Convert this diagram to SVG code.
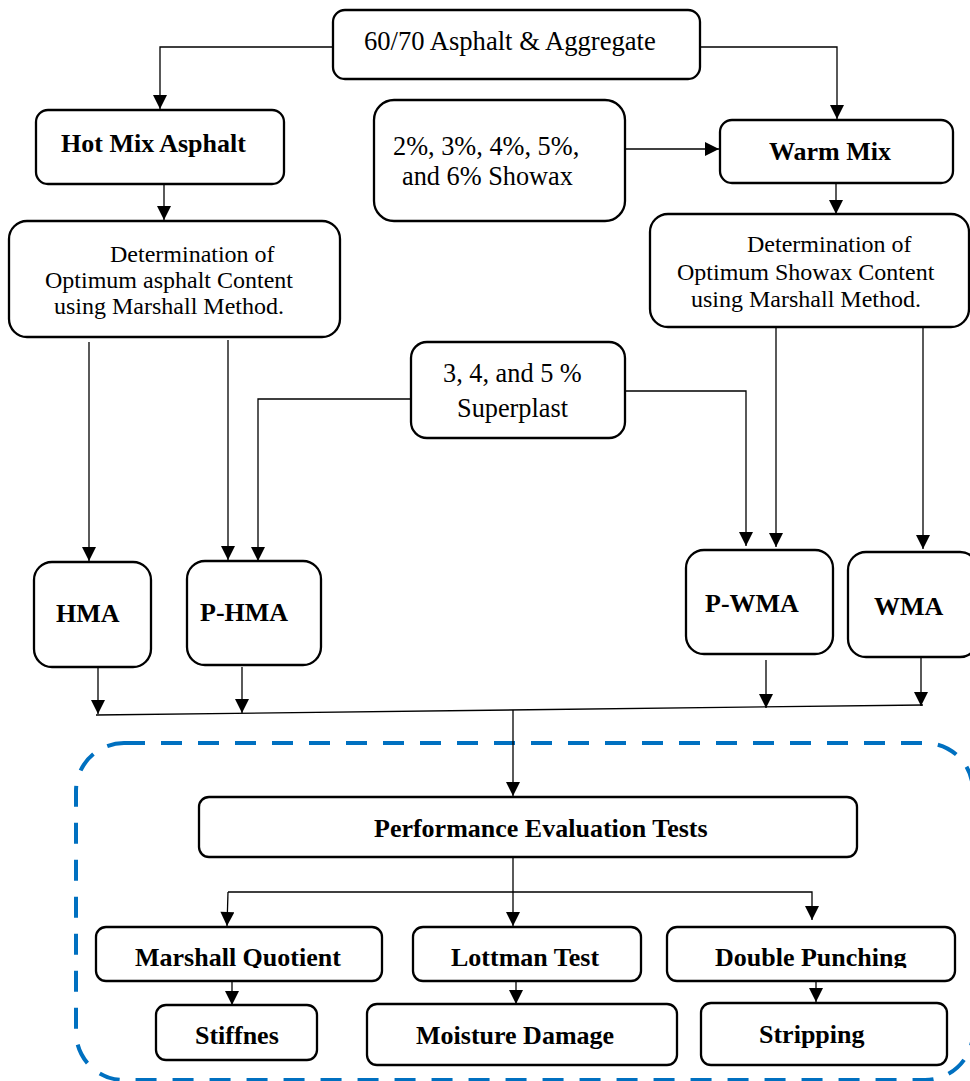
<svg xmlns="http://www.w3.org/2000/svg" width="970" height="1081" viewBox="0 0 970 1081">
<style>
.box{fill:#fff;stroke:#000;stroke-width:2.3}
.ln{fill:none;stroke:#000;stroke-width:1.3}
.r{font-family:"Liberation Serif","Times New Roman",serif;font-size:24px;fill:#000}
.r26{font-family:"Liberation Serif","Times New Roman",serif;font-size:26.3px;fill:#000}
.b{font-family:"Liberation Serif","Times New Roman",serif;font-size:26px;font-weight:bold;fill:#000}
</style>
<defs>
<marker id="ah" viewBox="0 0 10 10" refX="10" refY="5" markerWidth="15" markerHeight="14" markerUnits="userSpaceOnUse" orient="auto">
<path d="M0,0 L10,5 L0,10 z" fill="#000"/>
</marker>
<clipPath id="clipRow"><rect x="0" y="925" width="970" height="43"/></clipPath>
</defs>
<rect width="970" height="1081" fill="#fff"/>

<rect id="frame" x="76" y="743" width="897" height="337" rx="48" fill="none" stroke="#0070C0" stroke-width="4" stroke-dasharray="21,16"/>

<g id="connectors">
<path class="ln" d="M333,47 H160 V109" marker-end="url(#ah)"/>
<path class="ln" d="M700,47 H837 V119" marker-end="url(#ah)"/>
<path class="ln" d="M164,185 V220" marker-end="url(#ah)"/>
<path class="ln" d="M625,149 H719" marker-end="url(#ah)"/>
<path class="ln" d="M836,184 V214" marker-end="url(#ah)"/>
<path class="ln" d="M89,342 V561" marker-end="url(#ah)"/>
<path class="ln" d="M228,340 V560" marker-end="url(#ah)"/>
<path class="ln" d="M411,399 H258 V561" marker-end="url(#ah)"/>
<path class="ln" d="M625,391 H746 V546" marker-end="url(#ah)"/>
<path class="ln" d="M776,328 V547" marker-end="url(#ah)"/>
<path class="ln" d="M923,328 V549" marker-end="url(#ah)"/>
<path class="ln" d="M98,668 V714" marker-end="url(#ah)"/>
<path class="ln" d="M242,667 V713" marker-end="url(#ah)"/>
<path class="ln" d="M766,660 V708" marker-end="url(#ah)"/>
<path class="ln" d="M921,658 V706" marker-end="url(#ah)"/>
<path class="ln" d="M96,715 L923,705"/>
<path class="ln" d="M513,710 V796" marker-end="url(#ah)"/>
<path class="ln" d="M513,858 V926" marker-end="url(#ah)"/>
<path class="ln" d="M228,892 H812 V920" marker-end="url(#ah)"/>
<path class="ln" d="M228,892 L227,926" marker-end="url(#ah)"/>
<path class="ln" d="M232,982 V1005" marker-end="url(#ah)"/>
<path class="ln" d="M516,982 V1004" marker-end="url(#ah)"/>
<path class="ln" d="M816,982 V1002" marker-end="url(#ah)"/>
</g>

<g id="n_top">
<rect class="box" x="333" y="10" width="367" height="69" rx="12"/>
<text class="r26" x="364" y="50" style="font-size:26.6px">60/70 Asphalt &amp; Aggregate</text>
</g>
<g id="n_hot">
<rect class="box" x="36" y="110" width="248" height="74" rx="12"/>
<text class="b" x="61" y="152">Hot Mix Asphalt</text>
</g>
<g id="n_showax">
<rect class="box" x="374" y="100" width="251" height="121" rx="20"/>
<text class="r26" x="393" y="155">2%, 3%, 4%, 5%,</text>
<text class="r26" x="402" y="185">and 6% Showax</text>
</g>
<g id="n_warm">
<rect class="box" x="720" y="120" width="233" height="63" rx="12"/>
<text class="b" x="769" y="160">Warm Mix</text>
</g>
<g id="n_det_asp">
<rect class="box" x="9" y="221" width="331" height="116" rx="18"/>
<text class="r" x="110" y="262">Determination of</text>
<text class="r" x="45" y="288">Optimum asphalt Content</text>
<text class="r" x="54" y="314">using Marshall Method.</text>
</g>
<g id="n_det_sho">
<rect class="box" x="650" y="214" width="319" height="113" rx="18"/>
<text class="r" x="747" y="252">Determination of</text>
<text class="r" x="677" y="280">Optimum Showax Content</text>
<text class="r" x="691" y="307">using Marshall Method.</text>
</g>
<g id="n_super">
<rect class="box" x="411" y="342" width="214" height="96" rx="16"/>
<text class="r26" x="443" y="382">3, 4, and 5 %</text>
<text class="r26" x="457" y="417">Superplast</text>
</g>
<g id="n_hma">
<rect class="box" x="34" y="562" width="117" height="105" rx="18"/>
<text class="b" x="56" y="622">HMA</text>
</g>
<g id="n_phma">
<rect class="box" x="187" y="561" width="134" height="104" rx="18"/>
<text class="b" x="200" y="621">P-HMA</text>
</g>
<g id="n_pwma">
<rect class="box" x="686" y="550" width="147" height="104" rx="18"/>
<text class="b" x="705" y="612">P-WMA</text>
</g>
<g id="n_wma">
<rect class="box" x="848" y="552" width="130" height="105" rx="18"/>
<text class="b" x="874" y="615">WMA</text>
</g>
<g id="n_perf">
<rect class="box" x="199" y="797" width="658" height="60" rx="10"/>
<text class="b" x="374" y="837">Performance Evaluation Tests</text>
</g>
<g id="n_marshall">
<rect class="box" x="96" y="927" width="286" height="54" rx="10"/>
<text class="b" x="135" y="966" clip-path="url(#clipRow)">Marshall Quotient</text>
</g>
<g id="n_lottman">
<rect class="box" x="413" y="927" width="228" height="54" rx="10"/>
<text class="b" x="451" y="966" clip-path="url(#clipRow)">Lottman Test</text>
</g>
<g id="n_double">
<rect class="box" x="667" y="927" width="288" height="54" rx="10"/>
<text class="b" x="715" y="966" clip-path="url(#clipRow)">Double Punching</text>
</g>
<g id="n_stiff">
<rect class="box" x="156" y="1005" width="161" height="55" rx="10"/>
<text class="b" x="195" y="1044">Stiffnes</text>
</g>
<g id="n_moist">
<rect class="box" x="367" y="1004" width="310" height="61" rx="10"/>
<text class="b" x="416" y="1044">Moisture Damage</text>
</g>
<g id="n_strip">
<rect class="box" x="701" y="1003" width="246" height="62" rx="10"/>
<text class="b" x="759" y="1043">Stripping</text>
</g>
</svg>
